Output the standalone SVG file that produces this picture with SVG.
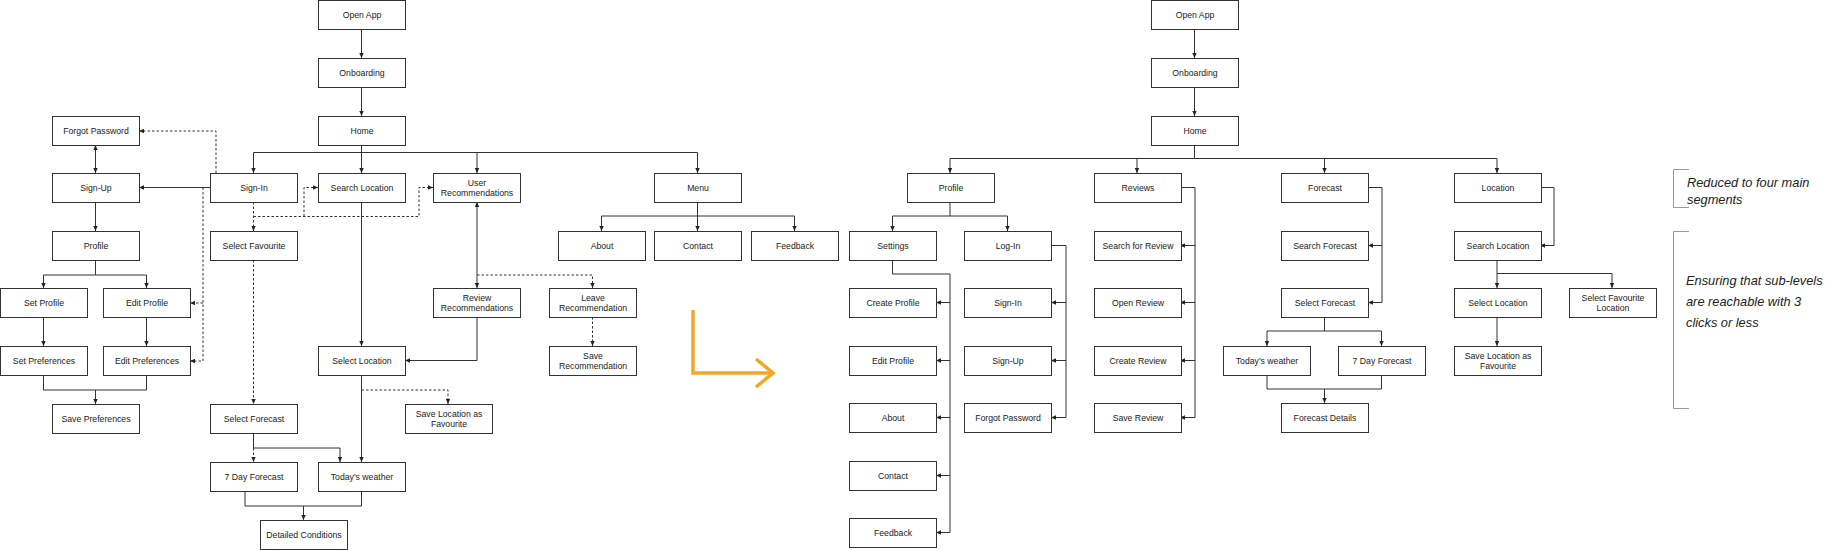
<svg xmlns="http://www.w3.org/2000/svg" width="1825" height="550" viewBox="0 0 1825 550">
<style>
  .n rect{fill:#fff;stroke:#333;stroke-width:1}
  .n text{font-family:"Liberation Sans",Arial,sans-serif;font-size:8.7px;fill:#222;text-anchor:middle}
  .c{fill:none;stroke:#333;stroke-width:1}
  .s{marker-end:url(#a)}
  .d{stroke-dasharray:2.5 2}
  .b{marker-start:url(#a);marker-end:url(#a)}
  .ann{font-family:"Liberation Sans",Arial,sans-serif;font-style:italic;font-size:12.8px;fill:#222}
  .br{fill:none;stroke:#999;stroke-width:1}
</style>
<defs>
  <marker id="a" viewBox="0 0 8 8" refX="8" refY="4" markerWidth="5" markerHeight="5" markerUnits="userSpaceOnUse" orient="auto-start-reverse">
    <path d="M0,0.5 L8,4 L0,7.5 z" fill="#222"/>
  </marker>
</defs>
<rect width="1825" height="550" fill="#fff"/>

<g id="connectors">
  <!-- left tree solid -->
  <path class="c s" d="M361.5,29 V58"/>
  <path class="c s" d="M361.5,87 V116"/>
  <path class="c s" d="M361.5,145 V173"/>
  <path class="c s" d="M361.5,152.5 H253.5 V173"/>
  <path class="c s" d="M361.5,152.5 H477 V173"/>
  <path class="c s" d="M477,152.5 H697.5 V173"/>
  <path class="c s" d="M210,187.5 H139"/>
  <path class="c b" d="M95.5,145 V173"/>
  <path class="c s" d="M95.5,202 V231"/>
  <path class="c s" d="M95.5,260 V275 H43.5 V288"/>
  <path class="c s" d="M95.5,275 H146.5 V288"/>
  <path class="c s" d="M43.5,317 V346"/>
  <path class="c s" d="M146.5,317 V346"/>
  <path class="c" d="M43.5,375 V390 H146.5 V375"/>
  <path class="c s" d="M95.5,390 V404"/>
  <path class="c s" d="M361.5,202 V346"/>
  <path class="c s" d="M361.5,375 V462"/>
  <path class="c s" d="M253.5,433 V448 H340 V462"/>
  <path class="c" d="M245,492 V506 H361.5 V492"/>
  <path class="c s" d="M303.5,506 V520"/>
  <path class="c b" d="M477,202 V288"/>
  <path class="c s" d="M477,317 V360.5 H405"/>
  <path class="c s" d="M697.5,202 V231"/>
  <path class="c s" d="M697.5,216 H601.5 V231"/>
  <path class="c s" d="M697.5,216 H794.5 V231"/>
  <!-- left tree dashed -->
  <path class="c d s" d="M216,173 V131 H139"/>
  <path class="c d s" d="M203,187.5 V361 H190"/>
  <path class="c d s" d="M203,303 H190"/>
  <path class="c d s" d="M253.5,202 V231"/>
  <path class="c d s" d="M253.5,216.5 H419 V187.5 H433"/>
  <path class="c d s" d="M304,216.5 V187.5 H318"/>
  <path class="c d s" d="M253.5,260 V404"/>
  <path class="c d s" d="M253.5,448 V462"/>
  <path class="c d s" d="M361.5,390 H448 V404"/>
  <path class="c d s" d="M477,275 H592.5 V288"/>
  <path class="c d s" d="M592.5,317 V346"/>

  <!-- right tree -->
  <path class="c s" d="M1194.5,29 V58"/>
  <path class="c s" d="M1194.5,87 V116"/>
  <path class="c s" d="M1194.5,145 V158.5 H950 V173"/>
  <path class="c s" d="M1137,158.5 V173"/>
  <path class="c s" d="M1194.5,158.5 H1497 V173"/>
  <path class="c s" d="M1324.5,158.5 V173"/>
  <path class="c s" d="M950,202 V216 H892.5 V231"/>
  <path class="c s" d="M950,216 H1007.5 V231"/>
  <path class="c s" d="M892.5,260 V274 H950 V532.5 H936"/>
  <path class="c s" d="M950,302.5 H936"/>
  <path class="c s" d="M950,360.5 H936"/>
  <path class="c s" d="M950,417.5 H936"/>
  <path class="c s" d="M950,475.5 H936"/>
  <path class="c s" d="M1051,245.5 H1066 V417.5 H1051"/>
  <path class="c s" d="M1066,302.5 H1051"/>
  <path class="c s" d="M1066,360.5 H1051"/>
  <path class="c s" d="M1180,187.5 H1195 V417.5 H1180"/>
  <path class="c s" d="M1195,245.5 H1180"/>
  <path class="c s" d="M1195,302.5 H1180"/>
  <path class="c s" d="M1195,360.5 H1180"/>
  <path class="c s" d="M1368,187.5 H1382 V302.5 H1368"/>
  <path class="c s" d="M1382,245.5 H1368"/>
  <path class="c s" d="M1324.5,317 V331 H1267 V346"/>
  <path class="c s" d="M1324.5,331 H1381.5 V346"/>
  <path class="c" d="M1267,375 V389 H1381.5 V375"/>
  <path class="c s" d="M1324.5,389 V403"/>
  <path class="c s" d="M1540,187.5 H1554 V245.5 H1540"/>
  <path class="c s" d="M1497,260 V288"/>
  <path class="c s" d="M1497,273.5 H1612 V288"/>
  <path class="c s" d="M1497,317 V346"/>
</g>

<!-- left tree nodes -->
<g id="l-open" class="n"><rect x="318.5" y="0.5" width="87" height="29"/><text x="362" y="18">Open App</text></g>
<g id="l-onboarding" class="n"><rect x="318.5" y="58.5" width="87" height="29"/><text x="362" y="76">Onboarding</text></g>
<g id="l-home" class="n"><rect x="318.5" y="116.5" width="87" height="29"/><text x="362" y="134">Home</text></g>
<g id="l-forgot" class="n"><rect x="52.5" y="116.5" width="87" height="29"/><text x="96" y="134">Forgot Password</text></g>
<g id="l-signup" class="n"><rect x="52.5" y="173.5" width="87" height="29"/><text x="96" y="191">Sign-Up</text></g>
<g id="l-profile" class="n"><rect x="52.5" y="231.5" width="87" height="29"/><text x="96" y="249">Profile</text></g>
<g id="l-setprofile" class="n"><rect x="0.5" y="288.5" width="87" height="29"/><text x="44" y="306">Set Profile</text></g>
<g id="l-editprofile" class="n"><rect x="103.5" y="288.5" width="87" height="29"/><text x="147" y="306">Edit Profile</text></g>
<g id="l-setpref" class="n"><rect x="0.5" y="346.5" width="87" height="29"/><text x="44" y="364">Set Preferences</text></g>
<g id="l-editpref" class="n"><rect x="103.5" y="346.5" width="87" height="29"/><text x="147" y="364">Edit Preferences</text></g>
<g id="l-savepref" class="n"><rect x="52.5" y="404.5" width="87" height="29"/><text x="96" y="422">Save Preferences</text></g>
<g id="l-signin" class="n"><rect x="210.5" y="173.5" width="87" height="29"/><text x="254" y="191">Sign-In</text></g>
<g id="l-searchloc" class="n"><rect x="318.5" y="173.5" width="87" height="29"/><text x="362" y="191">Search Location</text></g>
<g id="l-userrec" class="n"><rect x="433.5" y="173.5" width="87" height="29"/><text x="477" y="186">User</text><text x="477" y="196">Recommendations</text></g>
<g id="l-menu" class="n"><rect x="654.5" y="173.5" width="87" height="29"/><text x="698" y="191">Menu</text></g>
<g id="l-about" class="n"><rect x="558.5" y="231.5" width="87" height="29"/><text x="602" y="249">About</text></g>
<g id="l-contact" class="n"><rect x="654.5" y="231.5" width="87" height="29"/><text x="698" y="249">Contact</text></g>
<g id="l-feedback" class="n"><rect x="751.5" y="231.5" width="87" height="29"/><text x="795" y="249">Feedback</text></g>
<g id="l-selfav" class="n"><rect x="210.5" y="231.5" width="87" height="29"/><text x="254" y="249">Select Favourite</text></g>
<g id="l-reviewrec" class="n"><rect x="433.5" y="288.5" width="87" height="29"/><text x="477" y="301">Review</text><text x="477" y="311">Recommendations</text></g>
<g id="l-leaverec" class="n"><rect x="549.5" y="288.5" width="87" height="29"/><text x="593" y="301">Leave</text><text x="593" y="311">Recommendation</text></g>
<g id="l-saverec" class="n"><rect x="549.5" y="346.5" width="87" height="29"/><text x="593" y="359">Save</text><text x="593" y="369">Recommendation</text></g>
<g id="l-selloc" class="n"><rect x="318.5" y="346.5" width="87" height="29"/><text x="362" y="364">Select Location</text></g>
<g id="l-saveloc" class="n"><rect x="405.5" y="404.5" width="87" height="29"/><text x="449" y="417">Save Location as</text><text x="449" y="427">Favourite</text></g>
<g id="l-selforecast" class="n"><rect x="210.5" y="404.5" width="87" height="29"/><text x="254" y="422">Select Forecast</text></g>
<g id="l-7day" class="n"><rect x="210.5" y="462.5" width="87" height="29"/><text x="254" y="480">7 Day Forecast</text></g>
<g id="l-today" class="n"><rect x="318.5" y="462.5" width="87" height="29"/><text x="362" y="480">Today's weather</text></g>
<g id="l-detailed" class="n"><rect x="260.5" y="520.5" width="87" height="29"/><text x="304" y="538">Detailed Conditions</text></g>

<!-- orange transition arrow -->
<g id="transition" fill="none" stroke="#F5A623" stroke-width="3.5">
  <path d="M693,310 V373 H773"/>
  <path d="M756,359 L773,373 L756,387"/>
</g>

<!-- right tree nodes -->
<g id="r-open" class="n"><rect x="1151.5" y="0.5" width="87" height="29"/><text x="1195" y="18">Open App</text></g>
<g id="r-onboarding" class="n"><rect x="1151.5" y="58.5" width="87" height="29"/><text x="1195" y="76">Onboarding</text></g>
<g id="r-home" class="n"><rect x="1151.5" y="116.5" width="87" height="29"/><text x="1195" y="134">Home</text></g>
<g id="r-profile" class="n"><rect x="907.5" y="173.5" width="87" height="29"/><text x="951" y="191">Profile</text></g>
<g id="r-reviews" class="n"><rect x="1094.5" y="173.5" width="87" height="29"/><text x="1138" y="191">Reviews</text></g>
<g id="r-forecast" class="n"><rect x="1281.5" y="173.5" width="87" height="29"/><text x="1325" y="191">Forecast</text></g>
<g id="r-location" class="n"><rect x="1454.5" y="173.5" width="87" height="29"/><text x="1498" y="191">Location</text></g>
<g id="r-settings" class="n"><rect x="849.5" y="231.5" width="87" height="29"/><text x="893" y="249">Settings</text></g>
<g id="r-login" class="n"><rect x="964.5" y="231.5" width="87" height="29"/><text x="1008" y="249">Log-In</text></g>
<g id="r-createprofile" class="n"><rect x="849.5" y="288.5" width="87" height="29"/><text x="893" y="306">Create Profile</text></g>
<g id="r-editprofile" class="n"><rect x="849.5" y="346.5" width="87" height="29"/><text x="893" y="364">Edit Profile</text></g>
<g id="r-about" class="n"><rect x="849.5" y="403.5" width="87" height="29"/><text x="893" y="421">About</text></g>
<g id="r-contact" class="n"><rect x="849.5" y="461.5" width="87" height="29"/><text x="893" y="479">Contact</text></g>
<g id="r-feedback" class="n"><rect x="849.5" y="518.5" width="87" height="29"/><text x="893" y="536">Feedback</text></g>
<g id="r-signin" class="n"><rect x="964.5" y="288.5" width="87" height="29"/><text x="1008" y="306">Sign-In</text></g>
<g id="r-signup" class="n"><rect x="964.5" y="346.5" width="87" height="29"/><text x="1008" y="364">Sign-Up</text></g>
<g id="r-forgot" class="n"><rect x="964.5" y="403.5" width="87" height="29"/><text x="1008" y="421">Forgot Password</text></g>
<g id="r-searchreview" class="n"><rect x="1094.5" y="231.5" width="87" height="29"/><text x="1138" y="249">Search for Review</text></g>
<g id="r-openreview" class="n"><rect x="1094.5" y="288.5" width="87" height="29"/><text x="1138" y="306">Open Review</text></g>
<g id="r-createreview" class="n"><rect x="1094.5" y="346.5" width="87" height="29"/><text x="1138" y="364">Create Review</text></g>
<g id="r-savereview" class="n"><rect x="1094.5" y="403.5" width="87" height="29"/><text x="1138" y="421">Save Review</text></g>
<g id="r-searchforecast" class="n"><rect x="1281.5" y="231.5" width="87" height="29"/><text x="1325" y="249">Search Forecast</text></g>
<g id="r-selforecast" class="n"><rect x="1281.5" y="288.5" width="87" height="29"/><text x="1325" y="306">Select Forecast</text></g>
<g id="r-today" class="n"><rect x="1223.5" y="346.5" width="87" height="29"/><text x="1267" y="364">Today's weather</text></g>
<g id="r-7day" class="n"><rect x="1338.5" y="346.5" width="87" height="29"/><text x="1382" y="364">7 Day Forecast</text></g>
<g id="r-fdetails" class="n"><rect x="1281.5" y="403.5" width="87" height="29"/><text x="1325" y="421">Forecast Details</text></g>
<g id="r-searchloc" class="n"><rect x="1454.5" y="231.5" width="87" height="29"/><text x="1498" y="249">Search Location</text></g>
<g id="r-selloc" class="n"><rect x="1454.5" y="288.5" width="87" height="29"/><text x="1498" y="306">Select Location</text></g>
<g id="r-selfavloc" class="n"><rect x="1569.5" y="288.5" width="87" height="29"/><text x="1613" y="301">Select Favourite</text><text x="1613" y="311">Location</text></g>
<g id="r-saveloc" class="n"><rect x="1454.5" y="346.5" width="87" height="29"/><text x="1498" y="359">Save Location as</text><text x="1498" y="369">Favourite</text></g>

<!-- annotations -->
<g id="annotation-1">
  <path class="br" d="M1689,169.5 H1673.5 V207.5 H1689"/>
  <text class="ann" x="1687" y="187">Reduced to four main</text>
  <text class="ann" x="1687" y="204">segments</text>
</g>
<g id="annotation-2">
  <path class="br" d="M1689,231.5 H1673.5 V408.5 H1689"/>
  <text class="ann" x="1686" y="285">Ensuring that sub-levels</text>
  <text class="ann" x="1686" y="306">are reachable with 3</text>
  <text class="ann" x="1686" y="327">clicks or less</text>
</g>
</svg>
